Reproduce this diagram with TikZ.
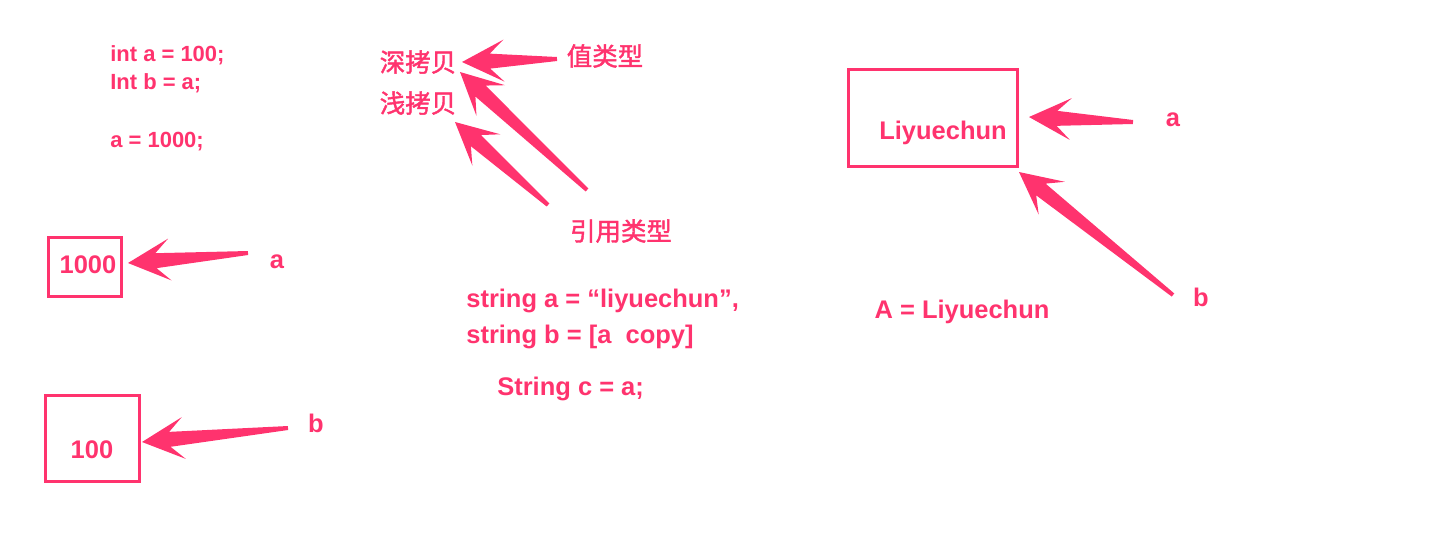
\documentclass[tikz,border=0pt]{standalone}
\usepackage{fontspec}
\setmainfont{Liberation Sans}
\newfontfamily\cjk{Noto Sans CJK SC}[FakeBold=1.6]
\usetikzlibrary{calc}

\definecolor{skpink}{RGB}{255,51,110}

% sizes of the tapered arrows
\newcommand{\headlen}{0.84cm}
\newcommand{\headwid}{0.42cm}
\newcommand{\notchlen}{0.56cm}
\newcommand{\shaftwid}{0.15cm}
\newcommand{\tailwid}{0.04cm}

% tapered arrow, #1 = tail, #2 = tip
\newcommand{\skitch}[2]{%
  \fill[skitch] (#2)
    -- ($(#2)!\headlen!(#1)!\headwid!90:(#1)$)
    -- ($(#2)!\notchlen!(#1)!\shaftwid!90:(#1)$)
    -- ($(#1)!\tailwid!-90:(#2)$)
    -- ($(#1)!\tailwid!90:(#2)$)
    -- ($(#2)!\notchlen!(#1)!\shaftwid!-90:(#1)$)
    -- ($(#2)!\headlen!(#1)!\headwid!-90:(#1)$)
    -- cycle;}

\tikzset{
  code/.style={text=skpink, inner sep=0pt, font=\bfseries\fontsize{14.5}{17}\selectfont},
  smallcode/.style={code, font=\bfseries\fontsize{12.5}{15}\selectfont},
  hanzi/.style={text=skpink, inner sep=0pt, font=\cjk\fontsize{14.5}{17}\selectfont},
  valbox/.style={draw=skpink, line width=1.7pt, inner sep=0pt},
  skitch/.style={fill=skpink}
}

\begin{document}
\begin{tikzpicture}[x=0.02cm, y=-0.02cm]
  \useasboundingbox (0,0) rectangle (1440,545);

  % value type code
  \node[smallcode, anchor=base west] (inta) at (110,61) {int a = 100;};
  \node[smallcode, anchor=base west] (intb) at (110,89) {Int b = a;};
  \node[smallcode, anchor=base west] (seta) at (110,147) {a = 1000;};

  % copy kinds
  \node[hanzi] (deep) at (418,62) {深拷贝};
  \node[hanzi] (shallow) at (418,103) {浅拷贝};
  \node[hanzi] (valtype) at (605,56) {值类型};
  \node[hanzi] (reftype) at (621,231) {引用类型};

  % value boxes
  \node[valbox, minimum width=42pt, minimum height=34pt] (box1000) at (85,267) {};
  \node[code] (v1000) at (88,265) {1000};
  \node[code] (lbla) at (277,262) {a};
  \node[valbox, minimum width=54pt, minimum height=49pt] (box100) at (92.5,438.5) {};
  \node[code] (v100) at (92,450) {100};
  \node[code] (lblb) at (316,423) {b};

  % string code
  \node[code, anchor=base west] (stra) at (466,307) {string a = “liyuechun”,};
  \node[code, anchor=base west] (strb) at (466,343) {string b = [a\ \ copy]};
  \node[code, anchor=base west] (strc) at (497,395) {String c = a;};

  % reference box
  \node[valbox, minimum width=96.4pt, minimum height=55.6pt] (boxname) at (933,118) {};
  \node[code] (vname) at (943,133) {Liyuechun};
  \node[code] (lblra) at (1173,120) {a};
  \node[code] (lblrb) at (1201,297) {b};
  \node[code] (capa) at (962,312) {A = Liyuechun};

  % arrow ends
  \coordinate (t1) at (557,59);   \coordinate (h1) at (462,62);
  \coordinate (t2) at (587,190);  \coordinate (h2) at (460,72);
  \coordinate (t3) at (548,205);  \coordinate (h3) at (455,122);
  \coordinate (t4) at (248,253);  \coordinate (h4) at (128,263);
  \coordinate (t5) at (288,428);  \coordinate (h5) at (142,442);
  \coordinate (t6) at (1133,122); \coordinate (h6) at (1029,117);
  \coordinate (t7) at (1173,295); \coordinate (h7) at (1019,172);

  \skitch{t1}{h1}
  \skitch{t2}{h2}
  \skitch{t3}{h3}
  \skitch{t4}{h4}
  \skitch{t5}{h5}
  \skitch{t6}{h6}
  \skitch{t7}{h7}
\end{tikzpicture}
\end{document}
